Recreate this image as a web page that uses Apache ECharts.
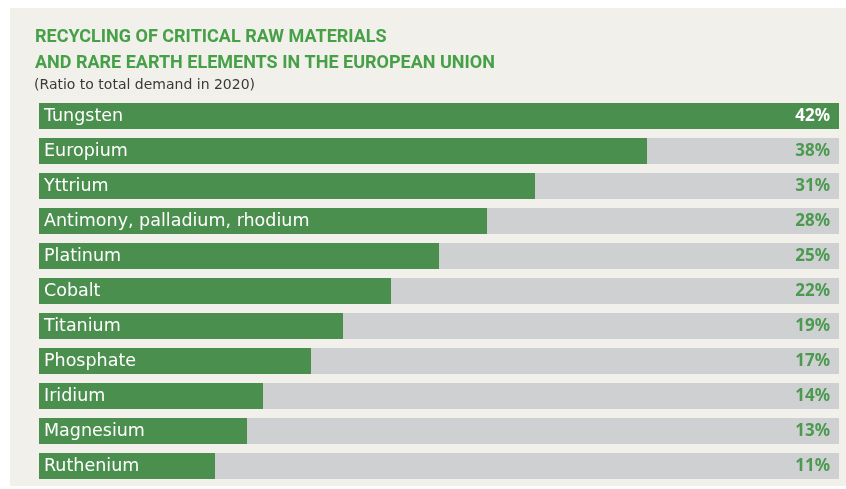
<!DOCTYPE html>
<html><head><meta charset="utf-8">
<script src="https://cdn.jsdelivr.net/npm/echarts@6/dist/echarts.min.js"></script>
<style>html,body{margin:0;padding:0;background:#fff}#c{width:846px;height:489px}</style>
</head><body><div id="c"></div>
<script>
const categories = ["Tungsten","Europium","Yttrium","Antimony, palladium, rhodium","Platinum","Cobalt","Titanium","Phosphate","Iridium","Magnesium","Ruthenium"];
const values = [42,38,31,28,25,22,19,17,14,13,11];
const axisMax = 50;
const titleText = "RECYCLING OF CRITICAL RAW MATERIALS\nAND RARE EARTH ELEMENTS IN THE EUROPEAN UNION";
const subtitleText = "(Ratio to total demand in 2020)";

const GREEN = '#4b8f4f', TRACK = '#cfd0d2', LABEL_GREEN = '#4b9a4f';
const maxVal = Math.max(...values);
const trackData = values.map(v => {
  const top = v === maxVal;
  return { value: axisMax, itemStyle: { color: top ? GREEN : TRACK }, label: { color: top ? '#ffffff' : LABEL_GREEN } };
});

const chart = echarts.init(document.getElementById('c'), null, { renderer: 'canvas' });
chart.setOption({
  backgroundColor: '#ffffff',
  animation: false,
  graphic: [{ type: 'rect', left: 10, top: 8, shape: { width: 836, height: 478 }, style: { fill: '#f1f0ea' }, z: -10, silent: true }],
  title: [
    { text: titleText, left: 30, top: 19, textStyle: { fontFamily: 'Roboto', fontWeight: 'bold', fontSize: 18, lineHeight: 26, color: '#46a048' } },
    { text: subtitleText, left: 29, top: 73, textStyle: { fontFamily: 'DejaVu Sans', fontWeight: 'normal', fontSize: 14, color: '#3a3a3a' } }
  ],
  grid: { left: 39, right: 7, top: 98.5, bottom: 5.5 },
  xAxis: { type: 'value', min: 0, max: axisMax, show: false },
  yAxis: {
    type: 'category', data: categories, inverse: true, z: 10,
    axisLine: { show: false }, axisTick: { show: false }, splitLine: { show: false },
    axisLabel: { inside: true, margin: 5, color: '#ffffff', fontFamily: 'DejaVu Sans', fontSize: 17.5 }
  },
  series: [
    { type: 'bar', data: trackData, barWidth: 26, barGap: '-100%', silent: true,
      label: { show: true, position: 'insideRight', distance: 9, fontFamily: 'Noto Sans', fontWeight: 'bold', fontSize: 17,
        formatter: p => values[p.dataIndex] + '%' } },
    { type: 'bar', data: values, barWidth: 26, barGap: '-100%', itemStyle: { color: GREEN }, silent: true }
  ]
});
</script></body></html>
